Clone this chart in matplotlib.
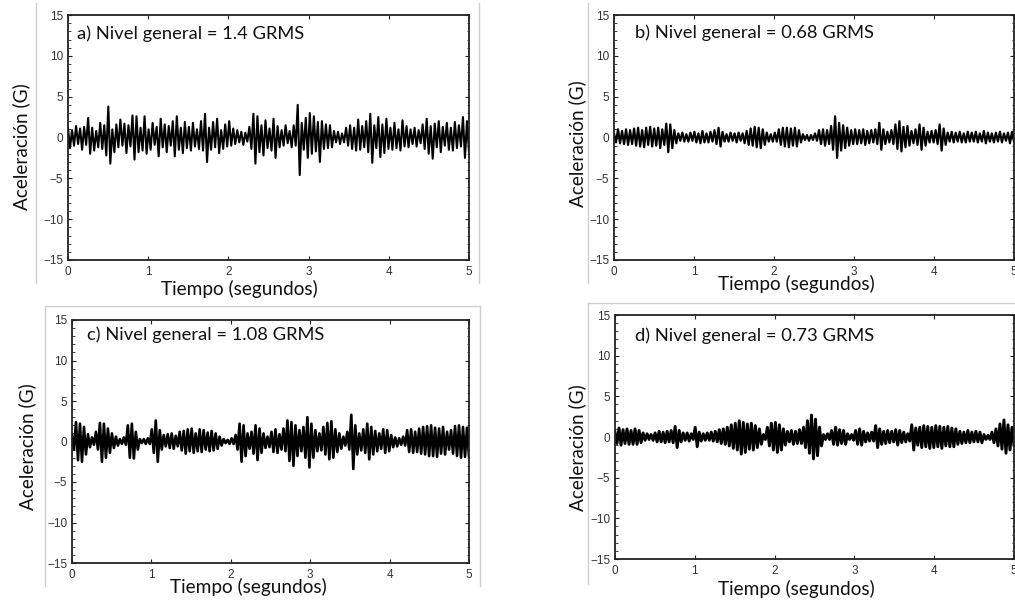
import numpy as np
import matplotlib
matplotlib.use("Agg")
from matplotlib import pyplot as plt
from matplotlib.lines import Line2D
from matplotlib.ticker import MultipleLocator

# peak values (G), alternating up/down, evenly spaced over 0-5 s
accel_a = [
    1.2, -1.3, 0.9, -1.0, 1.4, -0.8, 1.1, -1.5, 1.3, -0.9,
    2.4, -2.0, 1.2, -1.6, 0.8, -1.2, 1.8, -1.4, 1.5, -2.2,
    3.8, -3.2, 1.0, -1.8, 1.6, -1.2, 2.2, -1.0, 1.7, -1.9,
    1.5, -1.1, 2.7, -2.7, 2.6, -1.8, 1.2, -1.6, 2.6, -2.0,
    1.0, -1.5, 1.8, -0.9, 1.3, -2.3, 2.3, -1.2, 1.6, -1.8,
    1.4, -1.0, 2.0, -2.3, 2.6, -1.5, 1.2, -1.9, 1.9, -1.3,
    1.3, -1.6, 1.8, -1.1, 1.0, -1.4, 2.0, -1.6, 2.9, -3.0,
    1.2, -1.5, 1.9, -1.2, 2.3, -1.9, 0.9, -1.4, 1.6, -1.1,
    2.0, -1.0, 1.1, -0.8, 0.9, -0.6, 0.7, -0.9, 0.6, -0.5,
    1.3, -1.4, 2.9, -3.2, 2.6, -1.8, 1.5, -2.2, 2.1, -1.3,
    1.1, -1.6, 2.3, -2.5, 1.4, -1.2, 0.9, -1.0, 1.5, -0.7,
    0.8, -1.2, 1.5, -1.0, 4.0, -4.6, 1.8, -1.5, 2.4, -2.5,
    3.0, -2.0, 2.6, -1.7, 1.9, -3.0, 2.0, -1.4, 1.6, -1.3,
    1.5, -1.2, 0.8, -0.6, 0.7, -0.8, 0.5, -0.6, 1.2, -1.0,
    1.5, -1.4, 1.2, -1.6, 2.2, -1.5, 1.4, -1.2, 2.0, -1.8,
    2.9, -3.1, 1.5, -1.3, 2.5, -2.4, 1.6, -1.9, 2.3, -1.4,
    1.2, -1.5, 1.8, -1.3, 1.0, -1.6, 2.1, -1.1, 1.4, -1.2,
    1.0, -0.8, 1.2, -1.1, 0.9, -0.7, 1.6, -1.4, 2.3, -2.0,
    1.4, -2.6, 1.7, -1.2, 2.0, -1.8, 1.3, -1.0, 1.8, -1.5,
    1.2, -1.6, 1.9, -1.3, 1.5, -1.1, 2.5, -2.5, 2.0, -1.8,
]
accel_b = [
    0.5, -0.6, 1.0, -0.7, 0.8, -0.8, 1.0, -0.9, 0.9, -0.8,
    1.1, -1.0, 1.2, -1.1, 0.9, -1.2, 1.2, -0.9, 1.3, -1.1,
    1.1, -1.0, 1.2, -1.3, 1.0, -0.9, 1.7, -1.8, 1.6, -1.3,
    0.9, -0.7, 0.5, -0.4, 0.6, -0.5, 0.4, -0.5, 0.6, -0.4,
    0.7, -0.6, 0.5, -0.7, 0.8, -0.6, 0.5, -0.6, 0.7, -0.5,
    0.9, -0.8, 1.2, -1.1, 0.7, -0.5, 0.4, -0.5, 0.6, -0.4,
    0.5, -0.6, 0.6, -0.4, 0.5, -0.7, 0.8, -0.9, 1.1, -1.0,
    1.3, -1.2, 1.2, -1.3, 1.0, -0.9, 0.6, -0.5, 0.4, -0.5,
    0.6, -0.5, 1.0, -0.9, 1.2, -1.1, 1.2, -1.2, 1.1, -1.0,
    1.2, -1.1, 0.9, -0.6, 0.4, -0.3, 0.3, -0.4, 0.3, -0.3,
    0.5, -0.4, 0.9, -0.8, 1.0, -1.0, 0.9, -0.8, 1.4, -1.5,
    2.6, -2.5, 1.8, -1.6, 1.5, -1.3, 1.2, -1.0, 0.9, -0.8,
    1.0, -0.8, 0.9, -0.7, 1.0, -0.9, 0.8, -0.7, 0.9, -0.6,
    1.0, -0.8, 1.8, -1.5, 1.0, -0.8, 0.7, -0.6, 0.9, -0.8,
    1.6, -1.4, 2.0, -1.7, 1.3, -1.2, 1.4, -1.0, 0.8, -0.7,
    1.0, -0.9, 1.6, -1.5, 1.2, -1.0, 0.7, -0.6, 0.8, -0.6,
    0.9, -0.8, 1.6, -1.6, 1.1, -0.9, 0.6, -0.5, 0.7, -0.6,
    0.6, -0.5, 0.7, -0.6, 0.5, -0.6, 0.7, -0.5, 0.6, -0.5,
    0.7, -0.6, 0.5, -0.5, 0.8, -0.7, 0.6, -0.5, 0.5, -0.6,
    0.6, -0.5, 0.7, -0.6, 0.5, -0.4, 0.6, -0.7, 0.7, -0.5,
]
accel_c = [
    0.8, -1.0, 2.4, -2.3, 2.2, -2.5, 1.8, -1.6, 0.9, -0.7,
    0.5, -0.4, 1.2, -1.0, 2.3, -2.5, 2.2, -2.0, 1.6, -1.4,
    1.0, -0.8, 0.6, -0.5, 0.3, -0.3, 0.5, -0.4, 2.0, -2.0,
    2.2, -2.1, 1.2, -1.0, 0.3, -0.2, 0.3, -0.3, 0.4, -0.3,
    1.5, -1.4, 2.6, -2.5, 1.4, -1.0, 0.8, -0.6, 0.9, -0.8,
    1.0, -0.9, 0.7, -0.6, 1.2, -1.1, 1.3, -1.5, 1.5, -1.2,
    1.6, -1.4, 1.0, -1.2, 1.5, -1.3, 1.4, -1.0, 1.1, -1.2,
    1.3, -1.1, 1.0, -0.9, 0.6, -0.5, 0.3, -0.2, 0.2, -0.3,
    0.4, -0.3, 0.8, -1.0, 2.2, -2.5, 2.0, -1.8, 1.0, -0.9,
    1.2, -1.5, 2.0, -2.3, 1.6, -1.4, 1.0, -0.8, 0.6, -0.7,
    1.2, -1.3, 1.5, -1.4, 0.9, -1.0, 1.6, -1.2, 2.6, -2.4,
    2.4, -3.0, 2.0, -1.8, 1.4, -1.2, 1.8, -2.0, 3.0, -3.2,
    2.2, -2.0, 1.4, -1.2, 1.0, -1.1, 1.8, -1.6, 2.3, -2.2,
    2.5, -2.0, 1.5, -1.3, 1.0, -0.9, 0.6, -0.5, 1.2, -1.0,
    3.3, -3.4, 2.0, -1.6, 1.0, -1.1, 1.5, -1.4, 2.2, -2.2,
    1.8, -1.6, 1.3, -1.2, 1.0, -0.9, 1.5, -1.4, 1.4, -1.2,
    0.8, -0.7, 0.5, -0.6, 0.4, -0.4, 0.6, -0.5, 1.4, -1.3,
    1.5, -1.4, 1.2, -1.3, 1.6, -1.5, 1.8, -1.6, 1.9, -1.8,
    2.0, -1.8, 1.7, -1.9, 1.6, -1.5, 1.8, -1.6, 1.2, -1.0,
    1.4, -1.5, 1.9, -1.8, 2.0, -2.0, 1.8, -1.9, 1.7, -1.8,
]
accel_d = [
    0.6, -0.8, 1.1, -1.0, 0.9, -0.8, 1.0, -0.9, 0.8, -0.9,
    1.0, -0.9, 0.8, -0.7, 0.5, -0.4, 0.4, -0.3, 0.3, -0.4,
    0.5, -0.6, 0.7, -0.6, 0.6, -0.7, 0.7, -0.6, 0.8, -0.7,
    1.3, -1.3, 0.8, -0.6, 0.5, -0.4, 0.5, -0.5, 0.4, -0.3,
    1.2, -1.2, 0.6, -0.5, 0.4, -0.4, 0.5, -0.4, 0.6, -0.5,
    0.7, -0.6, 0.9, -0.8, 1.0, -0.9, 1.2, -1.1, 1.5, -1.4,
    1.7, -1.6, 2.0, -2.1, 1.8, -1.9, 1.6, -1.5, 1.7, -1.6,
    1.4, -1.3, 1.0, -0.9, 0.3, -0.3, 1.2, -1.1, 1.7, -1.6,
    1.8, -1.9, 1.5, -1.6, 1.0, -1.0, 0.7, -0.6, 0.8, -0.9,
    0.7, -0.8, 0.9, -0.8, 1.2, -1.3, 2.0, -2.0, 2.7, -2.7,
    2.2, -2.3, 1.2, -1.1, 0.3, -0.3, 0.4, -0.3, 0.8, -0.9,
    1.2, -1.0, 0.9, -0.8, 0.8, -0.9, 0.4, -0.3, 0.3, -0.4,
    0.8, -0.9, 1.0, -1.0, 0.7, -0.6, 0.5, -0.5, 0.6, -0.5,
    1.4, -1.3, 1.0, -0.9, 0.7, -0.8, 0.8, -0.7, 0.7, -0.6,
    0.9, -1.0, 0.8, -0.7, 0.6, -0.6, 0.4, -0.5, 1.5, -1.6,
    1.1, -1.0, 1.2, -1.3, 1.4, -1.2, 1.3, -1.4, 1.2, -1.3,
    1.4, -1.2, 1.3, -1.4, 1.2, -1.1, 1.3, -1.2, 1.1, -1.2,
    1.0, -0.9, 0.7, -0.8, 0.6, -0.7, 0.8, -0.7, 0.6, -0.6,
    0.7, -0.6, 0.6, -0.7, 0.3, -0.3, 0.2, -0.3, 0.6, -0.7,
    1.0, -1.1, 1.6, -1.5, 2.1, -2.0, 1.5, -1.6, 1.2, -1.0,
]

titles = ["a) Nivel general = 1.4 GRMS", "b) Nivel general = 0.68 GRMS",
          "c) Nivel general = 1.08 GRMS", "d) Nivel general = 0.73 GRMS"]
xlabel = "Tiempo (segundos)"
ylabel = "Aceleración (G)"

W, H = 1015, 603
fig = plt.figure(figsize=(W / 100, H / 100), dpi=100)


def fx(x):
    return x / W


def fy(y):
    return 1 - y / H


# panel boxes in pixels: left, right, top, bottom
boxes = [(68, 469, 15, 260), (614, 1014, 15, 260),
         (72, 469, 320, 563), (615, 1014, 315, 559)]
title_pos = [(77, 34), (635, 33), (87, 335), (635, 336)]
xlab_pos = [(239, 289), (796, 284), (248, 587), (796, 589)]
ylab_pos = [(21, 147), (577, 144), (27, 447), (577, 448)]
line_w = [1.5, 1.6, 1.9, 2.1]

# light grey frames of the pasted images
grey = "#cfcfcf"
frames = [
    [(36, 36), (3, 283)], [(479, 479), (3, 283)], [(588, 588), (3, 283)],
    [(45, 480), (306, 306)], [(45, 45), (306, 586)], [(480, 480), (306, 586)],
    [(588, 1015), (303, 303)], [(588, 588), (303, 584)],
]
for xs, ys in frames:
    fig.add_artist(Line2D([fx(v) for v in xs], [fy(v) for v in ys],
                          color=grey, lw=1.0))

series = [accel_a, accel_b, accel_c, accel_d]
for i, data in enumerate(series):
    l, r, t, b = boxes[i]
    ax = fig.add_axes([fx(l), fy(b), fx(r) - fx(l), fy(t) - fy(b)])
    tt = np.linspace(0, 5, len(data))
    ax.plot(tt, data, color="black", lw=line_w[i])
    ax.set_xlim(0, 5)
    ax.set_ylim(-15, 15)
    ax.set_xticks([0, 1, 2, 3, 4, 5])
    ax.set_yticks([-15, -10, -5, 0, 5, 10, 15])
    ax.yaxis.set_minor_locator(MultipleLocator(1))
    ax.tick_params(which="both", direction="in", top=True, right=True,
                   labelsize=8.5, colors="#222222", labelcolor="#333333")
    ax.tick_params(which="major", length=3, width=0.8)
    ax.tick_params(which="minor", length=1.8, width=0.6)
    ax.tick_params(axis="x", pad=4)
    for lab in ax.get_xticklabels() + ax.get_yticklabels():
        lab.set_fontfamily("Liberation Sans")
    for sp in ax.spines.values():
        sp.set_linewidth(1.3)
        sp.set_color("#222222")

    x0, y0 = title_pos[i]
    fig.text(fx(x0), fy(y0), titles[i], fontsize=13.2, family="Lato",
             ha="left", va="center", color="#111111")
    x0, y0 = xlab_pos[i]
    fig.text(fx(x0), fy(y0), xlabel, fontsize=13.7, family="Lato",
             ha="center", va="center", color="#111111")
    x0, y0 = ylab_pos[i]
    fig.text(fx(x0), fy(y0), ylabel, fontsize=13.7, family="Lato",
             ha="center", va="center", rotation=90, color="#111111")

fig.savefig("out.png", dpi=100)
